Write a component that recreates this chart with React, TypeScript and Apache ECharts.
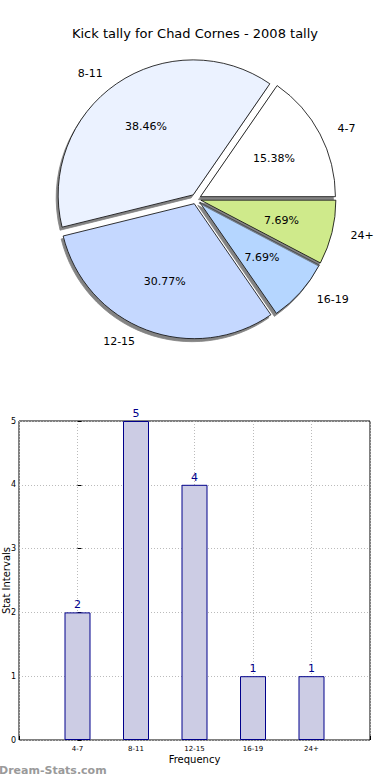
import React, { useEffect, useRef } from "react";
import * as echarts from "echarts";

const titleText = "Kick tally for Chad Cornes - 2008 tally";
const categories = ["4-7", "8-11", "12-15", "16-19", "24+"];
const counts = [2, 5, 4, 1, 1];
const sliceColors = ["#ffffff", "#ebf2ff", "#c5d8ff", "#b5d6ff", "#cfea8b"];
const yTicks = [0, 1, 2, 3, 4, 5];

const FONT = "DejaVu Sans";

export default function App() {
  const ref = useRef<HTMLDivElement>(null);
  useEffect(() => {
    if (!ref.current) return;
    const chart = echarts.init(ref.current, undefined, { renderer: "svg" });
    const total = counts.reduce((a, b) => a + b, 0);
    const pieData = categories.map((c, i) => ({
      name: c,
      value: counts[i],
      selected: true,
      itemStyle: { color: sliceColors[i] },
    }));
    const pctData = categories.map((c, i) => ({
      name: c,
      value: counts[i],
      label: { formatter: ((counts[i] / total) * 100).toFixed(2) + "%" },
    }));
    chart.setOption({
      animation: false,
      title: {
        text: titleText,
        left: "center",
        top: 22,
        textStyle: { fontFamily: FONT, fontSize: 13, fontWeight: "normal", color: "#000" },
      },
      grid: {
        left: 19,
        right: 20,
        top: 421,
        bottom: 40,
        show: true,
        borderColor: "#000",
        borderWidth: 1,
        backgroundColor: "#fff",
        containLabel: false,
        outerBoundsMode: "none",
      },
      xAxis: {
        type: "value",
        min: -1,
        max: 5,
        interval: 1,
        name: "Frequency",
        nameLocation: "middle",
        nameGap: 14,
        nameMoveOverlap: false,
        nameTextStyle: { fontFamily: FONT, fontSize: 10, color: "#000" },
        axisLine: { show: false },
        axisTick: { show: true, inside: true, length: 4, lineStyle: { color: "#000" } },
        axisLabel: {
          fontFamily: FONT,
          fontSize: 7,
          color: "#000",
          margin: 5,
          formatter: (v: number) => (categories[v] !== undefined ? categories[v] : ""),
        },
        splitLine: { show: true, lineStyle: { color: "#bbb", type: [1, 2], width: 1 } },
      },
      yAxis: {
        type: "value",
        min: 0,
        max: 5,
        interval: 1,
        name: "Stat Intervals",
        nameLocation: "middle",
        nameGap: 8,
        nameMoveOverlap: false,
        nameTextStyle: { fontFamily: FONT, fontSize: 10, color: "#000" },
        axisLine: { show: false },
        axisTick: { show: true, inside: true, length: 4, lineStyle: { color: "#000" } },
        axisLabel: {
          fontFamily: FONT,
          fontSize: 8,
          color: "#000",
          margin: 3,
          formatter: (v: number) => (yTicks.includes(v) ? String(v) : ""),
        },
        splitLine: { show: true, lineStyle: { color: "#bbb", type: [1, 2], width: 1 } },
      },
      graphic: [
        {
          type: "text",
          left: -1,
          top: 765,
          style: {
            text: "Dream-Stats.com",
            fill: "#9a9a9a",
            font: "bold 11px 'DejaVu Sans'",
          },
        },
      ],
      series: [
        {
          type: "pie",
          center: [196, 199],
          radius: 135,
          startAngle: 0,
          clockwise: false,
          selectedMode: "multiple",
          selectedOffset: 5,
          avoidLabelOverlap: false,
          data: pieData,
          itemStyle: {
            borderColor: "#000",
            borderWidth: 0.8,
            shadowColor: "rgba(90,90,90,0.75)",
            shadowBlur: 0,
            shadowOffsetX: -2,
            shadowOffsetY: 3,
          },
          label: {
            show: true,
            position: "outside",
            fontFamily: FONT,
            fontSize: 11,
            color: "#000",
            formatter: "{b}",
            distanceToLabelLine: 5,
          },
          labelLine: { show: false, length: 12, length2: 2 },
          emphasis: { disabled: true },
          select: { disabled: false },
        },
        {
          type: "pie",
          center: [196, 199],
          radius: 170,
          startAngle: 0,
          clockwise: false,
          silent: true,
          selectedMode: false,
          avoidLabelOverlap: false,
          data: pctData,
          itemStyle: { color: "rgba(0,0,0,0)", borderWidth: 0 },
          label: {
            show: true,
            position: "inner",
            fontFamily: FONT,
            fontSize: 11,
            color: "#000",
          },
          labelLine: { show: false },
          emphasis: { disabled: true },
        },
        {
          type: "bar",
          data: categories.map((c, i) => [i, counts[i]]),
          barWidth: 26,
          itemStyle: { color: "#ccccE4", borderColor: "#00008b", borderWidth: 1 },
          label: {
            show: true,
            position: "top",
            distance: 2,
            fontFamily: FONT,
            fontSize: 11,
            color: "#00008b",
            formatter: (p: any) => String(p.value[1]),
          },
          emphasis: { disabled: true },
        },
      ],
    });
    return () => chart.dispose();
  }, []);
  return (
    <div
      ref={ref}
      style={{ position: "fixed", left: 0, top: 0, width: 390, height: 780, background: "#fff" }}
    />
  );
}
